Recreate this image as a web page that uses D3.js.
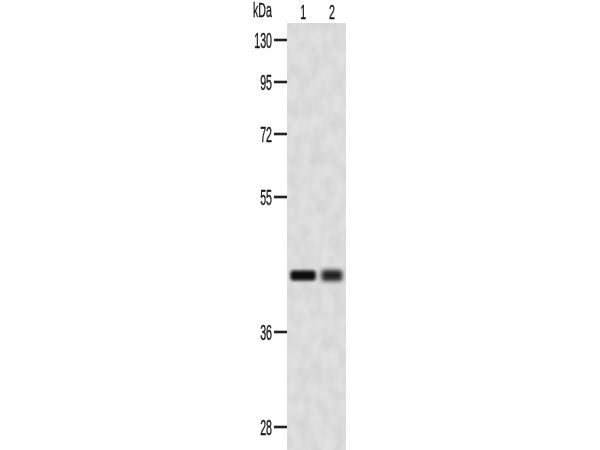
<!DOCTYPE html>
<html>
<head>
<meta charset="utf-8">
<script src="https://cdn.jsdelivr.net/npm/d3@7/dist/d3.min.js"></script>
<style>
html, body { margin: 0; padding: 0; background: #fff; }
text { font-family: "Liberation Sans", sans-serif; fill: #1a1a1a; stroke: #1a1a1a; stroke-width: 0.25px; }
</style>
</head>
<body>
<div id="chart-area"></div>
<script>
// western blot, marker sizes in kDa
var markers = [130, 95, 72, 55, 36, 28];
var lanes = ["1", "2"];
var bandKda = [43.0, 43.0];
var bandDarkness = [1, 0.8];
var bandSpan = [0.9, 0.74];
var bandThick = [10, 11];

var width = 600;
var height = 450;

var svg = d3.select("#chart-area")
    .append("svg")
        .attr("width", width)
        .attr("height", height)
        .style("display", "block");

var defs = svg.append("defs");

defs.append("filter").attr("id", "soft")
    .attr("x", "-30%").attr("y", "-100%").attr("width", "160%").attr("height", "300%")
    .append("feGaussianBlur").attr("stdDeviation", "1.8 1.5");

defs.append("filter").attr("id", "soft2")
    .attr("x", "-30%").attr("y", "-100%").attr("width", "160%").attr("height", "300%")
    .append("feGaussianBlur").attr("stdDeviation", "2.3 2.1");

defs.append("filter").attr("id", "txt")
    .attr("x", "-20%").attr("y", "-20%").attr("width", "140%").attr("height", "140%")
    .append("feGaussianBlur").attr("stdDeviation", 0.4);

// mottled look of the membrane
var mottle = defs.append("filter").attr("id", "mottle")
    .attr("x", "0").attr("y", "0").attr("width", "100%").attr("height", "100%");
mottle.append("feTurbulence")
    .attr("type", "fractalNoise")
    .attr("baseFrequency", "0.09 0.06")
    .attr("numOctaves", 2)
    .attr("seed", 4);
mottle.append("feColorMatrix")
    .attr("values", "0 0 0 0 0  0 0 0 0 0  0 0 0 0 0  0.1 0 0 0 -0.02");
mottle.append("feComposite").attr("in2", "SourceGraphic").attr("operator", "in");

// gels don't migrate evenly so the marker positions are piecewise on a log scale
var y = d3.scaleLog()
    .domain(markers)
    .range([40, 82, 134, 197, 332, 427]);

var x = d3.scaleBand()
    .domain(lanes)
    .range([289, 346])
    .paddingInner(0.02);

var colorScale = d3.scaleLinear().domain([0, 1]).range(["#8a8a8a", "#0a0a0a"]);

// membrane
svg.append("rect")
    .attr("x", 287)
    .attr("y", 23)
    .attr("width", 59)
    .attr("height", height - 23)
    .attr("fill", "#e2e2e2");

svg.append("rect")
    .attr("x", 287)
    .attr("y", 23)
    .attr("width", 59)
    .attr("height", height - 23)
    .attr("fill", "#000")
    .attr("filter", "url(#mottle)");

// bands
svg.append("g").selectAll("rect")
    .data(lanes)
    .enter()
    .append("rect")
        .attr("x", (d, i) => x(d) + x.bandwidth() * (1 - bandSpan[i]) / 2)
        .attr("y", (d, i) => y(bandKda[i]) - bandThick[i] / 2)
        .attr("width", (d, i) => x.bandwidth() * bandSpan[i])
        .attr("height", (d, i) => bandThick[i])
        .attr("rx", 3)
        .attr("fill", (d, i) => colorScale(bandDarkness[i]))
        .attr("filter", (d, i) => i == 0 ? "url(#soft)" : "url(#soft2)");

// marker ticks
svg.append("g").selectAll("rect")
    .data(markers)
    .enter()
    .append("rect")
        .attr("x", 274)
        .attr("y", d => y(d) - 1.3)
        .attr("width", 13)
        .attr("height", 2.6)
        .attr("fill", "#222");

var labels = svg.append("g").attr("filter", "url(#txt)");

labels.selectAll("text.marker")
    .data(markers)
    .enter()
    .append("text")
        .attr("class", "marker")
        .attr("text-anchor", "end")
        .attr("font-size", 13)
        .attr("transform", d => "translate(272," + (y(d) + 8) + ") scale(0.82,1.7)")
        .text(d => d);

labels.selectAll("text.lane")
    .data(lanes)
    .enter()
    .append("text")
        .attr("class", "lane")
        .attr("text-anchor", "middle")
        .attr("font-size", 13)
        .attr("transform", d => "translate(" + (x(d) + x.bandwidth() / 2) + ",19) scale(0.82,1.5)")
        .text(d => d);

labels.append("text")
    .attr("text-anchor", "end")
    .attr("font-size", 13)
    .attr("transform", "translate(272,17) scale(0.82,1.5)")
    .text("kDa");
</script>
</body>
</html>
